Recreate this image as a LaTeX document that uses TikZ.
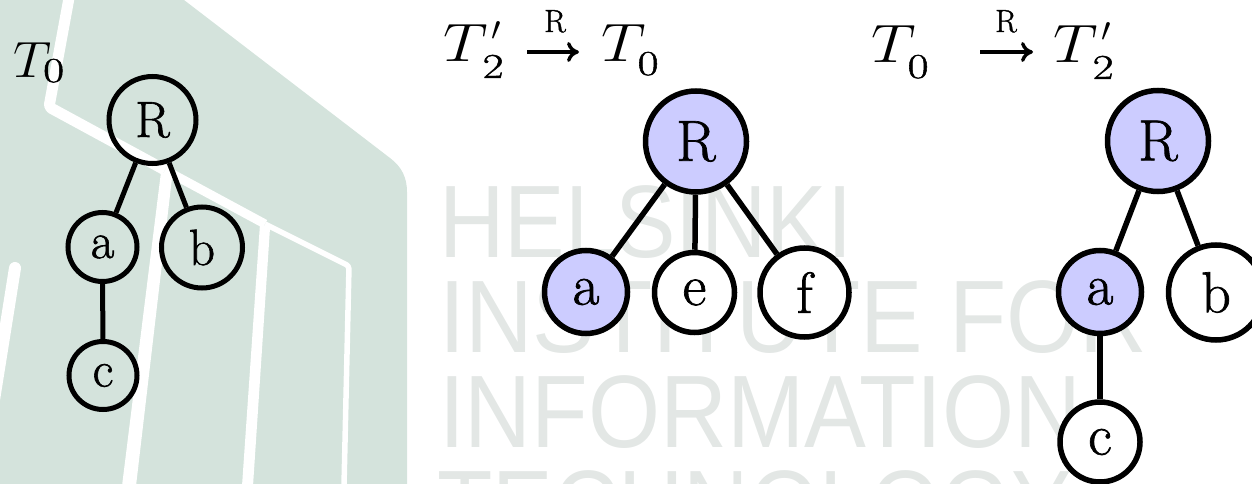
\RequirePackage{fix-cm}
\documentclass[tikz,border=0pt]{standalone}
\usepackage{graphicx}
\usepackage{fontspec}
\newfontfamily\wmfont{Liberation Sans}
\newfontfamily\lmten{Latin Modern Roman}[FakeBold=1.2]
\usetikzlibrary{arrows.meta}
\definecolor{wmgreen}{HTML}{D4E3DC}
\definecolor{wmgrey}{HTML}{E3E7E5}
\definecolor{hilite}{HTML}{CCCCFF}
% T with explicit subscript (and optional prime), sized as in the reference
\newcommand{\Tsub}[2]{\raisebox{-#1pt}{\scalebox{1.3}[1]{\lmten\fontsize{35}{37}\selectfont #2}}}
\newcommand{\Tzero}[2]{\scalebox{#1}[1]{$T$}\kern-8pt\Tsub{#2}{0}}
\newcommand{\Ttwop}{\scalebox{1.16}[1]{$T$}\kern-5pt\rlap{\Tsub{16}{2}}\kern9pt\raisebox{21pt}{\fontsize{34}{36}\selectfont$\prime$}}
\tikzset{
  x=1pt,y=-1pt,
  smalln/.style={circle,draw=black,line width=5pt,inner sep=0pt,font=\lmten\fontsize{51}{54}\selectfont},
  bign/.style={circle,draw=black,line width=5.5pt,inner sep=0pt,font=\lmten\fontsize{58}{62}\selectfont},
  hl/.style={fill=hilite},
  wh/.style={fill=white},
  edge/.style={line width=5pt,draw=black},
  edgeb/.style={line width=5.5pt,draw=black},
  arrowline/.style={line width=3.4pt,draw=black,-{Computer Modern Rightarrow[length=12pt,width=20pt]}},
  wmline/.style={draw=white,line join=round},
  wmtext/.style={anchor=base west,inner sep=0pt,text=wmgrey,font=\wmfont\fontsize{103}{105}\selectfont},
  lab/.style={anchor=base west,inner sep=0pt,font=\fontsize{54}{56}\selectfont},
  labs/.style={anchor=base west,inner sep=0pt,font=\fontsize{51}{53}\selectfont},
  arrowlab/.style={anchor=base,inner sep=0pt,font=\lmten\fontsize{32}{34}\selectfont}
}
\begin{document}
\begin{tikzpicture}
\useasboundingbox (0,0) rectangle (1252,484);
\begin{scope}
\clip (0,0) rectangle (1252,484);
\fill[wmgreen] (0,0) -- (184,0) -- (390,158) .. controls (402,167) and (407,178) .. (407,192) -- (407,484) -- (0,484) -- cycle;
\draw[wmline,line width=11pt,rounded corners=3pt] (69,-2) -- (49,107) -- (165,170);
\draw[wmline,line width=9pt] (165,170) -- (265,224);
\draw[wmline,line width=5.5pt,rounded corners=3pt] (265,224) -- (349,266) -- (344,486);
\fill[white] (161,172) -- (172,178) -- (136,486) -- (122,486) -- cycle;
\fill[white] (260,224) -- (270,228) -- (253,486) -- (242,486) -- cycle;
\draw[wmline,line width=12pt,line cap=round] (15,268) -- (-6,400);
\node[wmtext] (h1) at (439,257) {\scalebox{.88}[1]{HELSINKI}};
\node[wmtext] (h2) at (439,352) {\scalebox{.91}[1]{INSTITUTE FOR}};
\node[wmtext] (h3) at (439,447) {\scalebox{.90}[1]{INFORMATION}};
\node[wmtext] (h4) at (437,542) {\scalebox{.88}[1]{TECHNOLOGY}};
\end{scope}

% left tree
\node[labs] (t0) at (13,78) {\Tzero{1.05}{4}};
\node[smalln,minimum size=87pt] (R1) at (152.5,120) {R};
\node[smalln,minimum size=69pt] (a1) at (102.5,247) {a};
\node[smalln,minimum size=81pt] (b1) at (202,247.5) {b};
\node[smalln,minimum size=68pt] (c1) at (103,375.5) {c};
\draw[edge] (R1) -- (a1);
\draw[edge] (R1) -- (b1);
\draw[edge] (a1) -- (c1);

% middle tree
\node[lab] (m1) at (443,62) {\Ttwop};
\coordinate (m2a) at (527,52);
\coordinate (m2b) at (579,52);
\draw[arrowline] (m2a) -- (m2b);
\node[arrowlab] (m2) at (555,32) {R};
\node[lab] (m3) at (601,62) {\Tzero{1.16}{13}};
\node[bign,hl,minimum size=101pt] (R2) at (696,141.5) {R};
\node[bign,hl,minimum size=83pt] (a2) at (586,292) {a};
\node[bign,wh,minimum size=80pt] (e2) at (694.5,292.5) {e};
\node[bign,wh,minimum size=89pt] (f2) at (804.5,292.5) {f};
\draw[edgeb] (R2) -- (a2);
\draw[edgeb] (R2) -- (e2);
\draw[edgeb] (R2) -- (f2);

% right tree
\node[lab] (r1) at (871,63) {\Tzero{1.16}{15}};
\coordinate (r2a) at (980,52);
\coordinate (r2b) at (1033,52);
\draw[arrowline] (r2a) -- (r2b);
\node[arrowlab] (r2) at (1006,32) {R};
\node[lab] (r3) at (1053,63) {\Ttwop};
\node[bign,hl,minimum size=101pt] (R3) at (1158,141) {R};
\node[bign,hl,minimum size=83pt] (a3) at (1100,292) {a};
\begin{scope}
\clip (0,0) rectangle (1252,484);
\node[bign,wh,minimum size=95pt] (b3) at (1216,292.5) {b};
\node[bign,wh,minimum size=80pt] (c3) at (1100,442) {c};
\end{scope}
\draw[edgeb] (R3) -- (a3);
\draw[edgeb] (R3) -- (b3);
\draw[edgeb] (a3) -- (c3);
\end{tikzpicture}
\end{document}
